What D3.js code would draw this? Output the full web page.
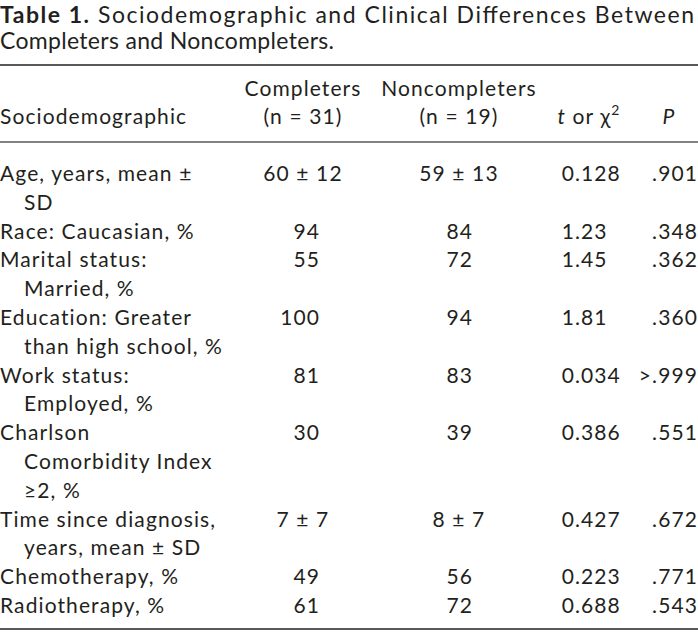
<!DOCTYPE html>
<html>
<head>
<meta charset="utf-8">
<script src="https://cdn.jsdelivr.net/npm/d3@7"></script>
<style>
  html, body { margin: 0; padding: 0; background: #fff; }
  svg text { font-family: Lato, "Open Sans", sans-serif; fill: #231f20; }
</style>
</head>
<body>
<svg id="chart" width="698" height="633"></svg>
<script>
// ---- data ----
const titleBold = "Table 1.";
const titleLine1 = " Sociodemographic and Clinical Differences Between";
const titleLine2 = "Completers and Noncompleters.";

const headerLabel = "Sociodemographic";
const groupNames = ["Completers", "Noncompleters"];
const groupNs = ["(n = 31)", "(n = 19)"];

const rowLabels = [
  ["Age, years, mean \u00B1", "SD"],
  ["Race: Caucasian, %"],
  ["Marital status:", "Married, %"],
  ["Education: Greater", "than high school, %"],
  ["Work status:", "Employed, %"],
  ["Charlson", "Comorbidity Index", "\u22652, %"],
  ["Time since diagnosis,", "years, mean \u00B1 SD"],
  ["Chemotherapy, %"],
  ["Radiotherapy, %"]
];
const completers = ["60 \u00B1 12", "94", "55", "100", "81", "30", "7 \u00B1 7", "49", "61"];
const noncompleters = ["59 \u00B1 13", "84", "72", "94", "83", "39", "8 \u00B1 7", "56", "72"];
const statValues = ["0.128", "1.23", "1.45", "1.81", "0.034", "0.386", "0.427", "0.223", "0.688"];
const pValues = [".901", ".348", ".362", ".360", ">.999", ".551", ".672", ".771", ".543"];

// ---- layout ----
const W = 698, H = 633;
const svg = d3.select("#chart");
const fs = 21, ls = 1.1;

// column anchor positions via an ordinal scale
const colX = d3.scaleOrdinal()
  .domain(["label", "indent", "compCenter", "compRight", "nonCenter", "nonRight", "statDec", "statCenter", "pRight", "pCenter"])
  .range([0, 24, 303, 320, 459, 473, 575, 589, 698, 669]);

// body line scale (line index -> baseline y)
const totalLines = d3.sum(rowLabels, d => d.length);
const lineY = d3.scaleLinear().domain([0, totalLines - 1]).range([181, 613]);

const txt = (x, y, s, anchor) => svg.append("text").attr("x", x).attr("y", y)
  .attr("font-size", fs).attr("letter-spacing", ls)
  .attr("text-anchor", anchor || "start").text(s);

// title
const t1 = svg.append("text").attr("x", 0).attr("y", 23).attr("font-size", 23)
  .attr("textLength", 694).attr("lengthAdjust", "spacing");
t1.append("tspan").attr("font-weight", "bold").text(titleBold);
t1.append("tspan").text(titleLine1);
svg.append("text").attr("x", 0).attr("y", 49).attr("font-size", 23)
  .attr("textLength", 334).attr("lengthAdjust", "spacing").text(titleLine2);

// rules
const rule = (y, w) => svg.append("line").attr("x1", 0).attr("x2", W).attr("y1", y).attr("y2", y)
  .attr("stroke", "#58595b").attr("stroke-width", w);
rule(65, 2);
rule(142, 1.5);
rule(629, 2);

// header
const hdrY1 = 96, hdrY2 = 124;
txt(colX("label"), hdrY2, headerLabel);
[["compCenter", 0], ["nonCenter", 1]].forEach(([k, i]) => {
  txt(colX(k), hdrY1, groupNames[i], "middle");
  txt(colX(k), hdrY2, groupNs[i], "middle");
});
const st = svg.append("text").attr("x", colX("statCenter")).attr("y", hdrY2).attr("font-size", fs)
  .attr("letter-spacing", ls).attr("text-anchor", "middle");
st.append("tspan").attr("font-style", "italic").text("t");
st.append("tspan").text(" or \u03C7");
st.append("tspan").attr("font-size", 14).attr("dy", -9).text("2");
txt(colX("pCenter"), hdrY2, "P", "middle").attr("font-style", "italic");

// body
let lineIdx = 0;
const isMean = v => v.includes("\u00B1");
rowLabels.forEach((lines, r) => {
  const y0 = lineY(lineIdx);
  lines.forEach((ln, j) => {
    txt(j === 0 ? colX("label") : colX("indent"), lineY(lineIdx + j), ln);
  });
  const cv = completers[r];
  txt(isMean(cv) ? colX("compCenter") : colX("compRight"), y0, cv, isMean(cv) ? "middle" : "end");
  const nv = noncompleters[r];
  txt(isMean(nv) ? colX("nonCenter") : colX("nonRight"), y0, nv, isMean(nv) ? "middle" : "end");
  const [ip, fp] = statValues[r].split(".");
  txt(colX("statDec"), y0, ip, "end");
  txt(colX("statDec"), y0, "." + fp, "start");
  txt(colX("pRight"), y0, pValues[r], "end");
  lineIdx += lines.length;
});
</script>
</body>
</html>
